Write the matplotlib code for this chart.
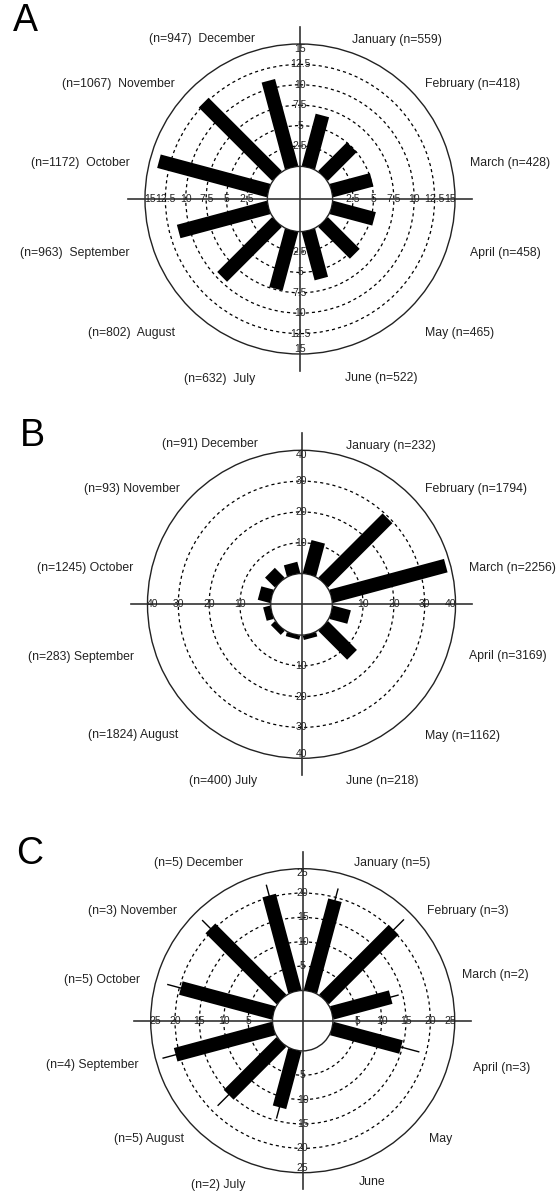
import numpy as np
import matplotlib
matplotlib.use('agg')
import matplotlib.pyplot as plt

plt.rcParams['font.family'] = ['Liberation Sans', 'DejaVu Sans']

months = ['January', 'February', 'March', 'April', 'May', 'June',
          'July', 'August', 'September', 'October', 'November', 'December']

# panel A
n_a = [559, 418, 428, 458, 465, 522, 632, 802, 963, 1172, 1067, 947]
pct_a = [6.6, 5.0, 5.1, 5.4, 5.5, 6.1, 7.4, 9.5, 11.4, 13.9, 12.7, 11.0]
ticks_a = [2.5, 5, 7.5, 10, 12.5, 15]

# panel B
n_b = [232, 1794, 2256, 3169, 1162, 218, 400, 1824, 283, 1245, 93, 91]
pct_b = [11.0, 29.5, 38.5, 6.0, 13.2, 1.4, 1.3, 1.8, 2.3, 4.1, 4.5, 3.7]
ticks_b = [10, 20, 30, 40]

# panel C (no samples in May and June)
n_c = [5, 3, 2, 3, None, None, 2, 5, 4, 5, 3, 5]
pct_c = [19.4, 20.2, 12.5, 14.7, 0, 0, 12.2, 15.3, 20.8, 19.7, 20.6, 20.4]
err_c = [2.5, 3.0, 1.7, 3.9, 0, 0, 2.4, 3.2, 2.8, 2.9, 2.4, 2.3]
ticks_c = [5, 10, 15, 20, 25]

# month label anchors around each rose, in units of the outer radius
pos_a = [(0.335, 1.026), (0.806, 0.742), (1.097, 0.232), (1.097, -0.348),
         (0.806, -0.865), (0.29, -1.155), (-0.29, -1.16), (-0.806, -0.865),
         (-1.097, -0.348), (-1.097, 0.232), (-0.806, 0.742), (-0.29, 1.03)]
pos_b = [(0.29, 1.03), (0.805, 0.747), (1.09, 0.234), (1.09, -0.338),
         (0.805, -0.857), (0.29, -1.145), (-0.286, -1.15), (-0.8, -0.85),
         (-1.09, -0.344), (-1.09, 0.234), (-0.79, 0.747), (-0.286, 1.04)]
pos_c = [(0.34, 1.04), (0.82, 0.72), (1.05, 0.30), (1.12, -0.31),
         (0.83, -0.78), (0.37, -1.06), (-0.38, -1.08), (-0.78, -0.78),
         (-1.08, -0.29), (-1.07, 0.27), (-0.83, 0.72), (-0.39, 1.04)]

W, H = 556, 1194
fig = plt.figure(figsize=(W / 100, H / 100), dpi=100)


def rose(cx, cy, rad, vals, ticks, origin, nvals, label_xy,
         sep_left=' ', sep_right=' ', errs=None):
    ax = fig.add_axes([(cx - rad) / W, 1 - (cy + rad) / H, 2 * rad / W, 2 * rad / H],
                      projection='polar')
    ax.set_theta_zero_location('N')
    ax.set_theta_direction(-1)
    rmax = ticks[-1]
    ax.set_ylim(0, rmax)
    ax.set_rorigin(-origin)
    ax.set_xticks([])
    ax.set_yticks(ticks[:-1])
    ax.set_yticklabels([])
    ax.grid(True, color='black', linestyle=(0, (2.5, 2.5)), linewidth=0.9)
    for sp in ax.spines.values():
        sp.set_color('#222222')
        sp.set_linewidth(1.0)

    theta = np.deg2rad(15 + 30 * np.arange(12))
    ax.vlines(theta, 0, vals, colors='black', linewidth=10, capstyle='butt', zorder=3)
    if errs is not None:
        v = np.array(vals)
        e = np.array(errs)
        keep = e > 0
        ax.vlines(theta[keep], (v - e)[keep], (v + e)[keep], colors='black',
                  linewidth=1.0, zorder=4)

    # cross through the centre
    ext = 0.555
    ax.plot([0.5, 0.5], [0.5 - ext, 0.5 + ext], transform=ax.transAxes,
            clip_on=False, color='#333333', lw=1.2, zorder=5)
    ax.plot([0.5 - ext, 0.5 + ext], [0.5, 0.5], transform=ax.transAxes,
            clip_on=False, color='#333333', lw=1.2, zorder=5)

    # ring values along the four arms
    for t in ticks:
        r = t - 0.03 * (rmax + origin) if t == rmax else t
        for ang in (0, np.pi / 2, np.pi, 3 * np.pi / 2):
            ax.text(ang, r, '%g' % t, ha='center', va='center', fontsize=7.5,
                    color='#222222', zorder=6, clip_on=False)

    for i, m in enumerate(months):
        dx, dy = label_xy[i]
        if nvals[i] is None:
            s = m
        elif dx > 0:
            s = '%s%s(n=%d)' % (m, sep_right, nvals[i])
        else:
            s = '(n=%d)%s%s' % (nvals[i], sep_left, m)
        ax.text(0.5 + 0.5 * dx, 0.5 + 0.5 * dy, s, transform=ax.transAxes,
                ha='left' if dx > 0 else 'right', va='center', fontsize=8.8,
                color='#222222', clip_on=False)
    return ax


rose(300, 199, 155, pct_a, ticks_a, 4.0, n_a, pos_a, sep_left='  ')
rose(301.5, 604.3, 154, pct_b, ticks_b, 10.0, n_b, pos_b)
rose(302.7, 1020.7, 152, pct_c, ticks_c, 6.2, n_c, pos_c, errs=err_c)

for letter, x, y in (('A', 13, 21), ('B', 20, 436), ('C', 16, 854)):
    fig.text(x / W, 1 - y / H, letter, fontsize=27, va='center', ha='left')

fig.savefig('out.png', dpi=100)
